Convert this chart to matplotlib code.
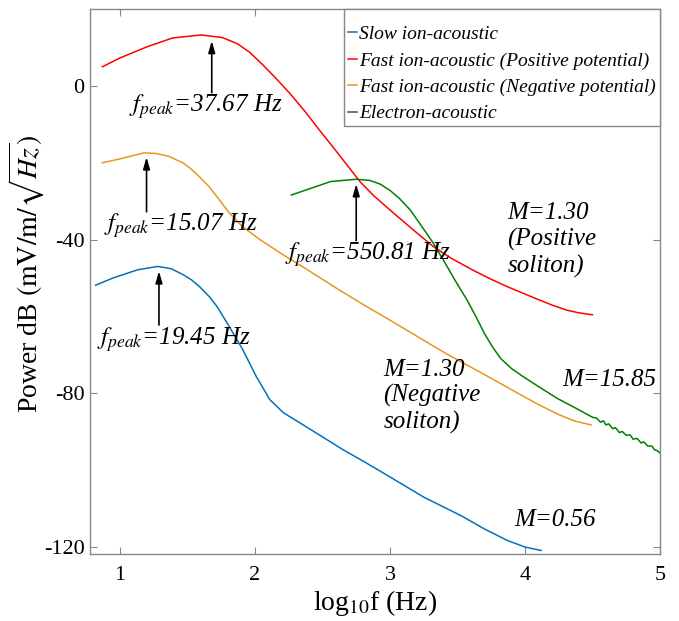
import matplotlib
matplotlib.use("Agg")
import matplotlib.pyplot as plt

plt.rcParams['font.family'] = ['Liberation Serif', 'DejaVu Serif']
plt.rcParams['mathtext.fontset'] = 'stix'
plt.rcParams['axes.unicode_minus'] = False

# ---- data (log10 f, power dB) ----
slow_x = [0.82, 0.95, 1.13, 1.28, 1.38, 1.47, 1.53, 1.59, 1.66, 1.72, 1.81, 1.91, 2.01, 2.11,
          2.21, 2.33, 2.50, 2.65, 2.80, 2.96, 3.25, 3.53, 3.70, 3.87, 4.00, 4.12]
slow_y = [-51.9, -50.0, -47.9, -47.0, -47.6, -49.2, -50.5, -52.3, -54.8, -57.5, -62.7, -68.7,
          -75.7, -81.7, -85.1, -87.7, -91.4, -94.7, -97.7, -101.0, -107.1, -112.0, -115.4,
          -118.4, -120.1, -121.0]

fpos_x = [0.87, 1.0, 1.2, 1.39, 1.6, 1.76, 1.87, 1.96, 2.05, 2.15, 2.26, 2.37, 2.48, 2.58,
          2.68, 2.78, 2.88, 3.0, 3.1, 3.2, 3.32, 3.45, 3.61, 3.74, 3.87, 4.0, 4.11, 4.21,
          4.31, 4.4, 4.5]
fpos_y = [5.0, 7.3, 10.2, 12.5, 13.3, 12.6, 11.0, 8.8, 5.8, 2.2, -2.0, -6.6, -11.6, -16.0,
          -20.5, -25.0, -28.6, -32.3, -35.3, -38.3, -41.8, -44.8, -47.9, -50.2, -52.3, -54.2,
          -55.8, -57.2, -58.4, -59.1, -59.6]

fneg_x = [0.87, 1.0, 1.18, 1.27, 1.36, 1.47, 1.53, 1.59, 1.66, 1.72, 1.81, 1.91, 2.04, 2.21,
          2.39, 2.6, 2.8, 3.0, 3.2, 3.42, 3.67, 3.92, 4.1, 4.25, 4.37, 4.49]
fneg_y = [-20.0, -19.0, -17.4, -17.6, -18.3, -20.1, -21.7, -23.7, -26.2, -28.9, -33.1, -36.7,
          -40.1, -44.0, -47.9, -52.6, -56.9, -61.0, -65.2, -69.8, -74.6, -79.5, -83.0, -85.6,
          -87.3, -88.3]

elec_x = [2.27, 2.56, 2.75, 2.85, 2.93, 3.0, 3.07, 3.15, 3.23, 3.32, 3.40, 3.48, 3.57, 3.64,
          3.70, 3.76, 3.82, 3.90, 3.99, 4.10, 4.24, 4.38, 4.50, 4.53, 4.56, 4.58, 4.60, 4.62,
          4.65, 4.67, 4.70, 4.72, 4.75, 4.78, 4.80, 4.83, 4.86, 4.88, 4.91, 4.94, 4.96, 4.98,
          5.0]
elec_y = [-28.4, -24.9, -24.3, -24.6, -25.6, -27.2, -29.3, -32.3, -36.3, -40.9, -45.6, -50.5,
          -55.7, -60.3, -64.5, -68.0, -71.0, -73.6, -75.8, -78.3, -81.4, -84.0, -86.3, -86.5,
          -87.6, -87.2, -88.3, -88.0, -89.3, -89.0, -90.3, -90.0, -91.0, -90.9, -92.0, -91.8,
          -93.0, -92.7, -93.8, -93.8, -94.8, -95.0, -95.6]

series_names = ['Slow ion-acoustic', 'Fast ion-acoustic (Positive potential)',
                'Fast ion-acoustic (Negative potential)', 'Electron-acoustic']
colors = ['#0072BD', '#FF0000', '#E8961E', '#008000']

peak_labels = ['19.45', '37.67', '15.07', '550.81']
mach_labels = ['M=0.56', 'M=1.30\n(Positive\nsoliton)', 'M=1.30\n(Negative\nsoliton)', 'M=15.85']

fig = plt.figure(figsize=(6.79, 6.21), dpi=100)
ax = fig.add_axes([0.1325, 0.108, 0.8395, 0.8775])

xs = [slow_x, fpos_x, fneg_x, elec_x]
ys = [slow_y, fpos_y, fneg_y, elec_y]
for x, y, c, n in zip(xs, ys, colors, series_names):
    ax.plot(x, y, color=c, lw=1.1, label=n)

ax.set_xlim(0.778, 5.0)
ax.set_ylim(-121.9, 20.05)
ax.set_xticks([1, 2, 3, 4, 5])
ax.set_yticks([-120, -80, -40, 0])
ax.tick_params(direction='in', top=True, right=True, labelsize=16, length=5,
               color='#888888')
ax.tick_params(axis='x', pad=9)
ax.tick_params(axis='y', pad=4)
for s in ax.spines.values():
    s.set_color('#888888')
    s.set_linewidth(1.0)

ax.set_xlabel(r'log$_{10}$f (Hz)', fontsize=20, labelpad=2)
ax.set_ylabel(r'Power dB $(\mathrm{mV/m}/\sqrt{Hz})$', fontsize=20)
ax.yaxis.set_label_coords(-0.075, 0.515)

leg = ax.legend(loc='upper right', prop={'style': 'italic', 'size': 14},
                handlelength=0.45, handletextpad=0.12, borderaxespad=0.0,
                labelspacing=0.45, title=' ', title_fontsize=2,
                fancybox=False, edgecolor='#888888', framealpha=1,
                borderpad=0.2)
leg.get_frame().set_linewidth(1.0)
for t in leg.get_texts():
    t.set_fontstyle('italic')
    t.set_fontsize(14)

# peak annotations
arrow_x = [1.289, 1.68, 1.197, 2.75]
tip_y = [-47.5, 12.5, -17.8, -24.8]
tail_y = [-63.0, -2.5, -33.5, -41.0]
txt_x = [0.83, 1.07, 0.88, 2.22]
txt_y = [-66.0, -5.5, -36.5, -44.0]
for i in range(4):
    ax.annotate('', xy=(arrow_x[i], tip_y[i]), xytext=(arrow_x[i], tail_y[i]),
                arrowprops=dict(arrowstyle='-|>,head_width=0.2,head_length=0.7',
                                color='black', lw=1.2))
    ax.text(txt_x[i], txt_y[i], r'$f_{peak}$=' + peak_labels[i] + ' Hz', fontsize=18,
            style='italic', ha='left', va='center')

mach_x = [3.92, 3.87, 2.95, 4.28]
mach_y = [-113.0, -30.3, -71.0, -76.5]
for i in range(4):
    ax.text(mach_x[i], mach_y[i], mach_labels[i], fontsize=18, style='italic',
            ha='left', va='top' if '\n' in mach_labels[i] else 'center',
            linespacing=1.2)

fig.savefig('out.png', dpi=100)
